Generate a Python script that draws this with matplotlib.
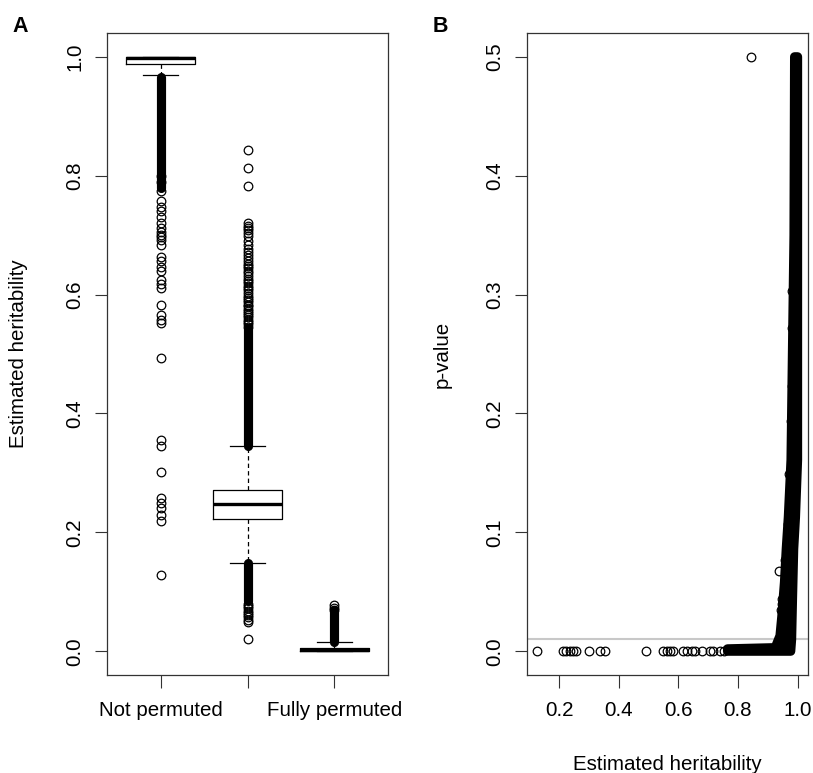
import numpy as np
import matplotlib
matplotlib.use("Agg")
import matplotlib.pyplot as plt

plt.rcParams['font.family'] = ['Liberation Sans', 'DejaVu Sans']

# ---- panel A: box statistics ----
group_labels = ['Not permuted', '', 'Fully permuted']
box_q1 = [0.988, 0.222, 0.000]
box_med = [0.998, 0.247, 0.002]
box_q3 = [1.000, 0.272, 0.005]
box_whislo = [0.969, 0.148, 0.000]
box_whishi = [1.000, 0.346, 0.015]

# single outliers (circles)
fliers_1 = [0.757, 0.748, 0.740, 0.731, 0.720, 0.712, 0.706, 0.701, 0.696,
            0.692, 0.684, 0.663, 0.656, 0.647, 0.639, 0.625, 0.617, 0.611,
            0.582, 0.566, 0.558, 0.552, 0.493, 0.356, 0.345, 0.301, 0.258,
            0.250, 0.241, 0.230, 0.219, 0.128, 0.775, 0.790, 0.800]
fliers_2 = [0.843, 0.813, 0.783, 0.720, 0.716, 0.712, 0.709, 0.704, 0.698,
            0.690, 0.684, 0.676, 0.672, 0.666, 0.661, 0.656, 0.652, 0.648,
            0.644, 0.640, 0.636, 0.632, 0.627, 0.623, 0.619, 0.615, 0.611,
            0.607, 0.602, 0.598, 0.594, 0.591, 0.587, 0.583, 0.580, 0.576,
            0.572, 0.569, 0.565, 0.562, 0.558, 0.554, 0.550, 0.546,
            0.079, 0.076, 0.072, 0.068, 0.065, 0.061, 0.057, 0.053, 0.049,
            0.021]
fliers_3 = [0.077, 0.073, 0.069]

# ranges where the outliers overlap into a solid column
dense_pos = [1, 2, 2, 3]
dense_lo = [0.780, 0.346, 0.084, 0.015]
dense_hi = [0.966, 0.543, 0.148, 0.070]

# ---- panel B: heritability vs p-value ----
zero_p_h = [0.127, 0.212, 0.223, 0.235, 0.246, 0.257, 0.300, 0.337, 0.354,
            0.492, 0.550, 0.561, 0.572, 0.583, 0.617, 0.628, 0.645, 0.656,
            0.678, 0.706, 0.717, 0.740, 0.752]
extra_h = [0.843, 0.982, 0.982, 0.981, 0.979, 0.971, 0.968, 0.957, 0.938,
           0.948, 0.947, 0.946, 0.950, 0.951]
extra_p = [0.500, 0.303, 0.272, 0.223, 0.194, 0.149, 0.107, 0.077, 0.0675,
           0.044, 0.040, 0.035, 0.025, 0.020]

# envelope of the dense cloud of points (point centres)
band_right_h = [0.977, 0.980, 0.983, 0.987, 0.993, 1.000, 1.000]
band_right_p = [0.000, 0.010, 0.044, 0.086, 0.113, 0.161, 0.500]
band_left_h = [0.990, 0.988, 0.978, 0.969, 0.962, 0.956, 0.947, 0.941, 0.925,
               0.765, 0.765]
band_left_p = [0.500, 0.350, 0.161, 0.113, 0.086, 0.058, 0.029, 0.013, 0.003,
               0.002, 0.000]
p_cut = 0.01

FS = 14.8
circ = dict(ls='none', marker='o', mfc='none', mec='black', ms=6.2, mew=0.9)
dense_lw = 6.6

fig = plt.figure(figsize=(8.13, 7.73), dpi=100)
axA = fig.add_axes([107/813, 98/773, 281/813, 642/773])
axB = fig.add_axes([527/813, 98/773, 281/813, 642/773])

# ---------- A ----------
stats = []
for i in range(3):
    stats.append(dict(med=box_med[i], q1=box_q1[i], q3=box_q3[i],
                      whislo=box_whislo[i], whishi=box_whishi[i], fliers=[]))
axA.bxp(stats, positions=[1, 2, 3], widths=0.8, capwidths=0.4,
        showfliers=False,
        boxprops=dict(color='black', lw=0.9),
        whiskerprops=dict(color='black', lw=0.9, ls=(0, (3.5, 2.5))),
        capprops=dict(color='black', lw=0.9),
        medianprops=dict(color='black', lw=2.4, solid_capstyle='butt'))

axA.vlines(dense_pos, dense_lo, dense_hi, colors='black', lw=dense_lw,
           capstyle='round', zorder=3)
for pos, vals in zip([1, 2, 3], [fliers_1, fliers_2, fliers_3]):
    axA.plot([pos] * len(vals), vals, **circ, zorder=3)

axA.set_xlim(0.38, 3.62)
axA.set_ylim(-0.04, 1.04)
axA.set_xticks([1, 2, 3])
axA.set_xticklabels(group_labels)
axA.set_yticks([0.0, 0.2, 0.4, 0.6, 0.8, 1.0])

# ---------- B ----------
axB.axhline(p_cut, color='#c8c8c8', lw=1.5, zorder=1)
poly_h = np.concatenate([band_right_h, band_left_h])
poly_p = np.concatenate([band_right_p, band_left_p])
axB.fill(poly_h, poly_p, fc='black', ec='black', lw=dense_lw,
         joinstyle='round', zorder=2)
axB.plot(zero_p_h, [0.0] * len(zero_p_h), **circ, zorder=3)
axB.plot(extra_h, extra_p, **circ, zorder=3)

axB.set_xlim(0.092, 1.035)
axB.set_ylim(-0.02, 0.52)
axB.set_xticks([0.2, 0.4, 0.6, 0.8, 1.0])
axB.set_yticks([0.0, 0.1, 0.2, 0.3, 0.4, 0.5])

for ax in (axA, axB):
    for s in ax.spines.values():
        s.set_color('#333333')
        s.set_linewidth(0.9)
    ax.tick_params(length=9, width=0.8, color='#333333', labelsize=FS)
    ax.tick_params(axis='x', pad=10)
    ax.tick_params(axis='y', pad=7.5, labelrotation=90)
    for t in ax.get_yticklabels():
        t.set_va('center')

fig.text(18.5/813, (773 - 354)/773, 'Estimated heritability', rotation=90,
         ha='center', va='center', fontsize=FS)
fig.text(442/813, (773 - 354)/773, 'p-value', rotation=90,
         ha='center', va='center', fontsize=FS)
fig.text(667/813, 3/773, 'Estimated heritability', ha='center',
         va='baseline', fontsize=FS)
fig.text(12/813, (773 - 32)/773, 'A', fontsize=15.5, fontweight='bold',
         va='baseline')
fig.text(433/813, (773 - 32)/773, 'B', fontsize=15.5, fontweight='bold',
         va='baseline')

fig.savefig('out.png', dpi=100)
